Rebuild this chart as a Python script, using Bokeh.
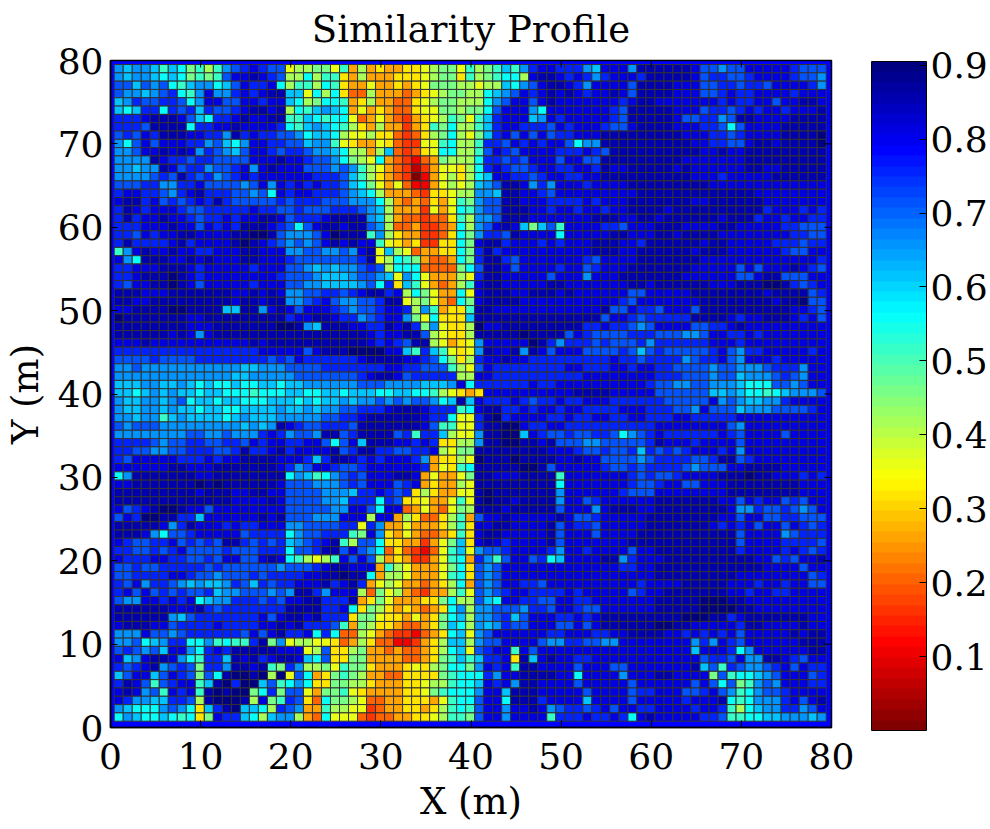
import math
from bokeh.plotting import figure
from bokeh.models import ColumnDataSource, LinearColorMapper, ColorBar, FixedTicker, Range1d
from bokeh.transform import transform
from bokeh.embed import file_html
from bokeh.resources import INLINE

TITLE = "Similarity Profile"
X_LABEL = "X (m)"
Y_LABEL = "Y (m)"
AXIS_TICKS = [0, 10, 20, 30, 40, 50, 60, 70, 80]
BAR_TICKS = [0.1, 0.2, 0.3, 0.4, 0.5, 0.6, 0.7, 0.8, 0.9]
LEVELS = "0123456789ABCDEFGHI"   # each character is a value, in steps of 0.05
STEP = 0.05
BASE = 0.012

# similarity cells, top row first, left column first, in blocks of ten columns
ROWS = [
"DCDDCACB9A 8ADEFGFEE7 88997A5856 556678997A 89ACADFGGF FFDCGGGDHH HHHHGEEDEE GGGGGFEEE",
"DCDDCBCB9A 9AEGGHGFE8 8B8AA65855 566678996A 89ABB8GHHG FGFDFGGGFH HHHHGEFFEE FGGGGFEED",
"EECEDEBACD DBCEGFFGB8 AA8BA65575 5656799988 788CBDEGHH GFDGGGGEHH HHGGGEEFFE FFEGGGGFD",
"EDDCDEFBAD GDDFGFGHHC C7B8B64485 5545678998 8BCDEGFGHG HGFGGHGEHH HHGGGEEFGF FGGGGFGGG",
"CDFEEFFEBD GGEEGGFGGC B89BBA5685 5446789988 8BDEGGEGHG GGGGGGFGHH GGGGGGGFGF FGGEGGHHG",
"CBCFFBFEFC FEEFGHHGH8 BACDCB5756 5446779989 9BEGGGDBGG GGGGGFEHHH HHGGGEFFEF GFGGFGGGH",
"FFFGHHHGEC BFFGHGGHHA ACBABB7457 5435678A97 ACFGGGCDGF GGGGGFEHHH HHGEEFFDEH HGGGGHHHH",
"FFFEHHHHBF FGGHGGGGFB ACDCBA8658 55356A9B88 ACFGGFFFEG FGGGFEEGHH HHGGGFFEBE GGGGHHHHH",
"EFEGFHHHGG FFDHFGFFEE DBCCB87786 6434689B87 9CFGEGEGEF FGGGHHHHHH HHHGGGFFEF GGGGHHHHI",
"DBEGEGGGFF DECBDGGFFE ECDDA76557 643377AB88 AFFEGFGFGG EBDDHHHHHH HHHHGGFFEE GHHGHHHHI",
"DDEGGHGHGD FEDCEGGFEF FEDDCB8858 C43467BB88 AEGFEGGGGF FFGFEHHHHH HHHHHGGHGG HHHHHHHHH",
"DDDDHGFFEF FEEEEGGGHG GFEEDB987B 5432459888 BFFEFEGGGE GGEEHHHHHH HHHGGGGGGG HHHHHHHHH",
"DDCDDHGEFF DEEFGDGHGG GEEEDEDA87 5431357768 BFGFEEFGGF FGGFHGGHHH HHGHGGGGGG HHGGHHHHH",
"DDDDEFEHFE FDEFGFGGGG GGFFFECA86 5430257868 BCGGFFEFGG FFGGHHHHHH HHHHGGGFGG GGGHHHHHH",
"EEEFFDDFFG EEEEDEGDGF GFGFFECB97 5742257878 CDEHHGDFDG GGFGGGGHHH HHHHHHGGGG GGGGGGGGG",
"FGGFFEDFGH FFFEEDEBGF GGFFFEDCB8 5554366788 DDCHHGGFEG GGGGGGGGHH HHHHHHHHHH HGGGGGGGG",
"GHHFGEFEFG FHFEEEEEFE FFFEEEDDDB 85454657A9 DEEHHGGGFF FFGFGGGHHH HHHHGGHHHH HHGGGGGGG",
"FHGFGGGFEE FFFFFGFFEE FEEEFFFEDC 85553757BA DEEHHHGGFG GFGGFGGHHH HGHHHHHHHH HHFGGGFGF",
"FHFGGHGGFE FFGFGGHHGE FFFGHHHHDC 85443446A8 DDEHHHGGGG GGGHHHGGHH GHHHHHHGHH HFGGFGGFF",
"FFFGGGHGGE GFGFHHHGFE BEGHHGHHED 84453345B8 DEGHGC9CEA GGGGFFEGGG HHHGGGGHHG GGGGFFEEE",
"FFEGFGGHHG GGGHHIIHED DDEGIHHHAD 86553346B9 DFFEHGGGGB GGGGGHHGGG HHGHHHHGGG GGGGGFFEE",
"FHFFFFGHFG GGGHIHGFED EDEGHGHGGA 76563366B9 GHHFGGGFGF GGGHHHGGFH HHHHHGHHGG GGGFFFEFF",
"ADGHGGHGGF FGGGHHGGGD DEEDDEDGH7 C8745566B9 FHFGGGGGGG GGGHHHGGHH HHHHGHHHGG GGGGFEEGG",
"GDBHHHGGHG HGGGHHGGGF EEEEEEEFH7 8BA95445B9 FHHFEGGGGG GGFEGGGGHH HHHHHGGGGG GGGGGGGGF",
"FFGGGHHHGF GGGGGFGGGE EDCDCDDEFE 8BBB44449B EHHGEGGGGF GGEFGGGHHH HHHHGGGGGE GEGGGHGFE",
"FFGHHHIHGF GGGGGGGGFE EEDCCCDEED C7DB755587 FHHGGGGGEG GGDGGGHHHH HHHGGGGGGE EGHHEEEGG",
"FEGGHHIHGE GGGGGFGGGE EDDCCCCDEB F6CA75458A GHHGGGGGHH GGGGGGGHHG HHHHHHGGGH HHIIHFEFG",
"HHHGGGHHHH HHHGGHGHGD DEEFFEFGHH FG8B9755B7 GHHHGGHHHG HGGGGGGEEG GGGGHHHHHH HHGHHHHEF",
"HHGGHHHHHH HHHGHHGHHD DEFGEDDEEF HH789754B9 GHHHHGGGGG GGGGGGFEGG GGGGGHHHHH HHHGHHIEE",
"GGHHHHIIHH HHCCHHDGHG EGGGFEDEEF GGF8DA566A HHGGGGGGGG GGGGHEEGFF EGGGEHHHHH HHHHHGGFE",
"IHHHHHHHGG HHHHHHHHHF GGHHGFFDEF GGD97B666C HHHHHHHHHH HHHHEGGFEF FFFFHHHHGF GGHHHGFGE",
"HHHHHHHHGG GHHHHHHHII HDCHHHGGFF HGHF9D7668 IGGHHHHHHH HHFFGFFEDE GGGGEEFFGH GGGGGGGGG",
"HHHHHHGHGD GHHHHHHHHH HHHHHHHHGF GGHHE87668 HHHHHIHHHH EGFEEEEFFF EEEDDEGGFF GFGGGGGGG",
"GGGHGGGGGG GGGGGHGHHH HHHHHHHHGF GFEHH87567 DGGGGGIHFD FFFEFEEEFD FFFFFFGGGF GGGGGGGGG",
"FFFFFFFFFF FFFFFFGGGG GEGHHHIIII GGCAFCA767 DHGGHDHGEG GGEEEEFECE FEEEEEFGED FFGGGGGFG",
"EEEEFEEEEF FFFFFFFEFE GFFFFFFGHH HHGGFEB968 FGGHGGFFFF FFFFFGFFEF FFFDEFFGED GGGFGGGGG",
"DDEDDDDDDD DDDDCCDDDE EEEFFFFFFF GGFFEEEA87 EGFFFFFFFF GGFFFGGFGG FFEEEEDEED DDEFFFDGG",
"DDDDDDDDDD DDDCCDDDDD EEEEEEEFGH HGEFFFFF88 GGFFFFFFFF FFGGGGGGGG FFFEEEDEEC DDDEFEDGG",
"CCCDDCCDCB CBBCBBCCBC CDDDDDDEEE DDDDCCCDGB FFFFFFGFFG GGGGGGGGGF EEDDEEDDDC BBBEEDEGG",
"CCBCDCDCCB CCBBBABBBC CBBCCBCCCB BCCBBA8765 6GGGGGGGGG GHHHHGGGGG EEEEEECCDC BBABCDDDE",
"DCCDDCDEBC CBCCBBBCCC BCBCCDCDDE DEDEEDBCHC GFFFGFEFFG FFGGGFFFFF FEEEEEGDED CCDDFGGGG",
"DCCDDCDCCB CCBBCCCCDC CDCDDEEFFF GHHHGFFFAB GHHFFGFGGF GGFFFFGGGF FFEEDGEEEC DDDEEEEFG",
"DDCDDACDCC CCBCDCCCDD DDDEEFFGHH HHHHGFFB77 FHIFGGGGFF GFFGGFFGGF FFGGFFFFFG GGGGGGGGG",
"EDEEEDDDDD DDDDCDCDHG FEEFFFEHHH HHHHGEAA77 FHHIIGFFGG FFFFFFFFFF GGGGGGGGED GGGGGGGGG",
"DDDDDDDDEE DDEDDDFGFD EEDHHEFHHH HEFAFFC877 DHHIICGFEE FEEFFEBDEF GFFFFFFGFE GGGGEGGGG",
"FFFFEDEEFF EEFFEGFGGF FGGEBEGCHH HGGFGF6688 DHHIIHHGHE EEDDEEEEEF HGGGFGGGGE GGGGGGGGG",
"FFEEDDEEFF FEEFHFFGHF GGGGHEFHHF FEEFFG8799 HHHHHHHHGG GFEEFEEFCF EFEFGGGFGD GGGGGGGGG",
"FEGGGGGFFF GFGGHHHHGG GFCFHHGFGF GGGFD56687 IHHHIHHHHG GHGGEEEEDE FFFFEEFHHE FGGGGGGGG",
"GGGGGGHHGG GHHHHHHHGF DEGGFEEFGG GGGGF576AB HHHHHIIHEG GGGGFEEFEF FFFEDEEEGG HHHHGGGGG",
"BDHHHHHHHG GHHHHHHHHB DCABDEFEGG GHHG575579 HHGGGHHHHA GGGGGGGFEF EEFGGGGHHH IHHGGGFGF",
"GGHHHHHHHI HIHHHHHHGE EEDDDEFEGG GEFG565587 HHHHHHHHHB GGGGGGGFEE FGGEEGGGHH HHHHHHGGG",
"HHHHHHHHHG HHHGGHHGGE EEEDDDCFFG FEF6865577 HIHHHHHHHD GGGGGGFEEE GGGGGGGGHH HHHHHHGGG",
"HHHHHHHHHH HHHGGGGHGE EEEDDCFFFB FE667557A7 HIHHGHHHHD GGEFGGGGGG HHHHHHHGGE GFGGEFEGG",
"GEFGHIIHGG EGGGGGGGGE EEEEDDGGEB GG45754798 HHHGHHHHHE GGGDGHHHGG HHHHHHHHGD DFEEFEDEG",
"EGFIIHHFFC GGGGGGHGHE EEDDDGGG8G G5864468A5 EGGHGGGGGH GEEFGGGGGH HHHHHHHGGE GGEEFFEEE",
"HHHHHGDFHG GGFGFFGGGD DEEEEFF7FD 55755568A6 GGHHGGGGHE GFFEGGGGGH HHHHHHGFGF GEGGEGFEF",
"HHHGDBEEFG GGGGEFFFFB DEEFFFA9GD 65754456A6 GHHGGGGGHE GGGEGGGGHH HHHHHHHHHE GGGGDEFFF",
"GFEEFFGEFE FEHHFEFEFC DEFGHA8EEB 66553579C6 GHGFGGGGHE GGGGGGGHHH HHHHHHHHHE GGGGFFFFE",
"FFEEFEFGEE EEFEEEFFFB EEFHHEGEDB 4643247AC7 DEEFGGGGFD GGFGGGGEGG HHHHHHHHHF GGGGFGFEF",
"GFFFGGFFEE FEGGEEGHGB A878AGEGE8 5653357AB5 FDAEGGEFBC GGGGHHDFGG GHHHHHHHHH HGGEFEGGH",
"EEFEEFFFFF EFEEEEEEDE EEFGHHGGG5 A8755579B6 EDEGGGGGGG GGGGGGFFGG HHHHHHHHHH HHGGGGEGG",
"EEFFFFGGFE EDEEEFEFFF FGGHHIHHB5 8875557AB6 EDEGGGGGGG GGGGGGGGGG HHHHHHHHHG GGGGGGGEF",
"FEGDFFEDCD CCDFECFEFF GGGHFGHF57 87554568B5 EDEGGFFEGG GGGGGGGGFG GGGHHHHHGG GFGGFGGEE",
"FGEGEFEFEE FCDDEEEDED HHFDGGG849 78543558A7 EDEFGGFFFF GFGGGGGEFG GHHHHHHHGG FGGFFGGGG",
"EDDGGFGFGB CDDFFFEFEG GHHFFFH569 7555669B88 ECBGGFFEEG GFFGGGGGGG HHHHHIIIHH GGGGGGGGG",
"HHHHHHGGGH FEFFFFFFFH HHHFFGB698 6565456BD8 DDEEEDFFEG GFEEGGGGGG HHHHHIIIIH HGGGGGGGG",
"HHHHHHDCEF FFFFFFGEGH HGHFFF6997 6657569BC8 DDEFCEGGGF FGFGHHHHHH HHHIIIHHFG HHHHHHHGG",
"GHHHGGEFFF FGFFFFGGHG HFFFEA5986 6544569CB8 DCDFEEGGGE EGEGHHHHHH IIHHGGGGGF HHGGGGHGG",
"DDDGEEDEFF FFFFEGEGHF FGBFB44875 4332456BC7 DEGGGGGGFF GGGFFGGHHH HGGFGFGFGE GGGGGHGHH",
"DDEBCDFFBB DABAAFH9D7 8877645864 4223568CC8 DEEGGGGEDD FFEEDDGGGG GGGGDFDGFE GGGGGGHHH",
"EFEDECGGDB FGFHHHHHGG G78E668955 4544568BC7 EFGGAGEGGG GGGGGGGGGG GGGGCGGGFB DGGGGGGHH",
"GCDGHHGDBA FFCHGHFGHH GCBE669955 5544569ACA CFFG6HCGHG GFFGGGGGGG GGGGGEFFEG DDHHGFEGG",
"FEFGHDEFE9 FFDHHGHA9F D8897A9965 5567689BB9 DGFGAHHGGG GEGGGEEGGG GGGGHCEAFE DDEFGEGFF",
"CEGGCEGFE9 EBHIIHI8I7 EB569A9855 4466669ABB BFDGGHHHHG GBGGGGDGGG HHGGGG9EAB BCDEGGGEF",
"FHGEAEFGGA CHIFIICEAB DB66998865 5566788ABB CGFGDHHGGG GEGGGGGEGG GGGGEGEBE9 ADEDGGGFF",
"GHGDEAGFGA HIHII9BF9E E7599A7655 556679ABBB DGGCHHHGGG GGEGGGGEFF GGGEEFGEDA BDEEFGGGG",
"GFDDCCFFE8 HIIIH8G9AF E64B998744 5566657ABB EGGBHHHFGG GGCGGGGEGG GGGFGGGHBA BDDDFGEGH",
"DCBBBDEDB6 CFHICCB8FE D55A887734 5566568ABA EGGDGGHGDE FFEFGEGGFF GGGGFGGFA8 BCDDFFDEG",
"BDCBBCBAB6 9GFFCB8CDD 854B777434 4556678AA9 EGGDGGGGAF FFGFFGFBGH GGGGGFFEAA BBCCDDDCD",
]

def jet(t):
    r = min(max(min(4*t - 1.5, 4.5 - 4*t), 0), 1)
    g = min(max(min(4*t - 0.5, 3.5 - 4*t), 0), 1)
    b = min(max(min(4*t + 0.5, 2.5 - 4*t), 0), 1)
    return "#%02x%02x%02x" % (round(r*255), round(g*255), round(b*255))

palette = [jet(i/63) for i in range(64)][::-1]
mapper = LinearColorMapper(palette=palette, low=0.0, high=0.905)

xs, ys, vals = [], [], []
for r, row in enumerate(ROWS):
    cells = "".join(row.split())
    for c, ch in enumerate(cells):
        xs.append(c + 0.91)
        ys.append(79.52 - (r + 0.5) * 0.997)
        vals.append(LEVELS.index(ch) * STEP + BASE)
src = ColumnDataSource(dict(x=xs, y=ys, v=vals))

FONT = "DejaVu Serif"
p = figure(frame_width=721, frame_height=667, x_range=Range1d(0, 80), y_range=Range1d(0, 80),
           output_backend="svg", toolbar_location=None, tools="",
           min_border_left=108, min_border_right=0, min_border_top=0, min_border_bottom=0,
           background_fill_color="#0000ff", border_fill_color="white")
p.rect("x", "y", width=1.0, height=0.997, source=src,
       fill_color=transform("v", mapper), line_color="#333333", line_width=1)
p.grid.visible = False
p.outline_line_color = "black"
p.outline_line_width = 1.5

p.title.text = TITLE
p.title.text_font = FONT
p.title.text_font_size = "37px"
p.title.text_font_style = "normal"
p.title.text_color = "black"
p.title.align = "center"
p.title.vertical_align = "top"
p.title.offset = -7
p.title.standoff = 15

for ax in (p.xaxis[0], p.yaxis[0]):
    ax.ticker = FixedTicker(ticks=AXIS_TICKS)
    ax.major_tick_in = 7
    ax.major_tick_out = 0
    ax.minor_tick_line_color = None
    ax.major_tick_line_color = "black"
    ax.axis_line_color = "black"
    ax.axis_line_width = 1.5
    ax.major_label_text_font = FONT
    ax.major_label_text_font_size = "36px"
    ax.major_label_text_color = "black"
    ax.axis_label_text_font = FONT
    ax.axis_label_text_font_size = "37px"
    ax.axis_label_text_font_style = "normal"
    ax.axis_label_text_color = "black"
p.xaxis[0].major_label_standoff = 15
p.yaxis[0].major_label_standoff = 7
p.xaxis[0].axis_label = X_LABEL
p.yaxis[0].axis_label = Y_LABEL
p.xaxis[0].axis_label_standoff = 8
p.yaxis[0].axis_label_standoff = 8
p.yaxis[0].major_label_orientation = "horizontal"

# mirrored ticks along the top and right edges of the box
p.ray(x=AXIS_TICKS, y=[80] * len(AXIS_TICKS), length=7, length_units="screen", angle=-math.pi / 2,
      line_color="black", line_width=1)
p.ray(x=[80] * len(AXIS_TICKS), y=AXIS_TICKS, length=7, length_units="screen", angle=math.pi,
      line_color="black", line_width=1)

bar = ColorBar(color_mapper=mapper, width=55, height=669, location=(40, -3), padding=0, margin=0,
               ticker=FixedTicker(ticks=BAR_TICKS), major_label_text_font=FONT,
               major_label_text_font_size="36px", major_label_text_color="black",
               major_tick_in=7, major_tick_line_color="black", minor_tick_line_color=None,
               bar_line_color="black", label_standoff=4, border_line_color=None,
               background_fill_color=None)
p.add_layout(bar, "right")

open("out.html", "w").write(file_html(p, INLINE))
